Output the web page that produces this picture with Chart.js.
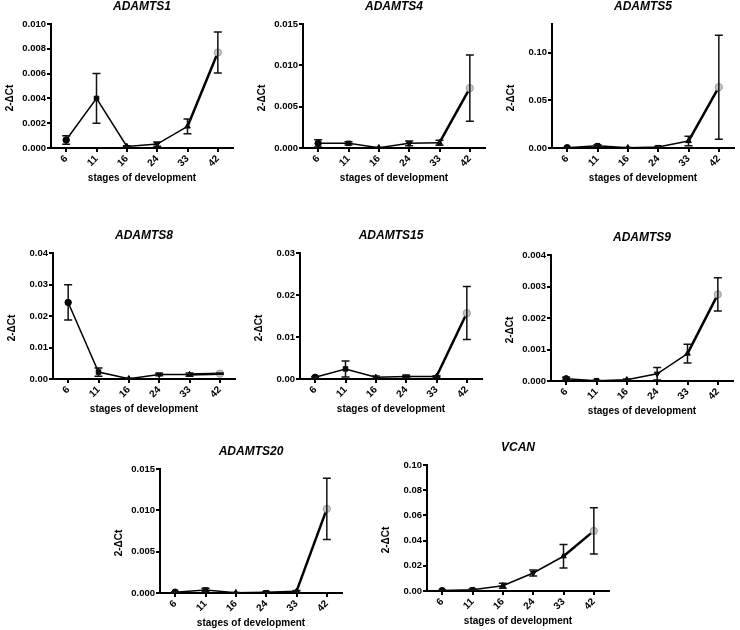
<!DOCTYPE html>
<html>
<head>
<meta charset="utf-8">
<script src="https://cdn.jsdelivr.net/npm/chart.js@4.4.1/dist/chart.umd.min.js"></script>
<style>
  body { margin: 0; background: #fff; width: 740px; height: 630px; position: relative; overflow: hidden; }
  .panel { position: absolute; }
</style>
</head>
<body>
<script>
// stages of development (x categories)
const stages = ['6', '11', '16', '24', '33', '42'];

// mean 2-ΔCt values and error (half-bar) per gene
const adamts1 = [0.00064, 0.0040, 0.00013, 0.00032, 0.00174, 0.0077];
const adamts1Err = [0.00034, 0.0020, 0.00005, 0.00017, 0.0006, 0.00165];

const adamts4 = [0.00056, 0.00056, 0.00004, 0.00056, 0.00064, 0.00724];
const adamts4Err = [0.00045, 0.0002, 0.00002, 0.0003, 0.0003, 0.0040];

const adamts5 = [0.0003, 0.0024, 0.0003, 0.001, 0.0073, 0.0638];
const adamts5Err = [0.0002, 0.001, 0.0002, 0.0005, 0.005, 0.0545];

const adamts8 = [0.0243, 0.0022, 0.0001, 0.0014, 0.0014, 0.0017];
const adamts8Err = [0.0056, 0.0013, 0.0001, 0.0004, 0.0005, 0.0002];

const adamts15 = [0.0004, 0.0024, 0.0004, 0.0006, 0.0006, 0.0157];
const adamts15Err = [0.0002, 0.0019, 0.0003, 0.0003, 0.0002, 0.0063];

const adamts9 = [0.00007, 0.00001, 0.00004, 0.00023, 0.00087, 0.00275];
const adamts9Err = [0.00005, 0.00001, 0.00002, 0.0002, 0.0003, 0.00053];

const adamts20 = [0.0001, 0.00036, 0.00004, 0.0001, 0.0002, 0.01018];
const adamts20Err = [0.00005, 0.0002, 0.00002, 0.00005, 0.0001, 0.0037];

const vcan = [0.0003, 0.001, 0.0042, 0.0143, 0.0276, 0.0477];
const vcanErr = [0.0002, 0.0005, 0.002, 0.0023, 0.0093, 0.0184];

const FONT = "'Liberation Sans', Arial, sans-serif";
const Y_W = 50;     // room left of the y axis
const TOP_H = 30;   // room above plot (title)
const X_H = 40;     // room below plot (ticks + x title)

// panels: name, data, plot box [left, top, right, bottom]
const panels = [
  { name: 'ADAMTS1', data: adamts1, err: adamts1Err, max: 0.010, step: 0.002, dec: 3, box: [51, 24, 238, 148] },
  { name: 'ADAMTS4', data: adamts4, err: adamts4Err, max: 0.015, step: 0.005, dec: 3, box: [303, 24, 490, 148] },
  { name: 'ADAMTS5', data: adamts5, err: adamts5Err, max: 0.13, step: 0.05, dec: 2, box: [552, 24, 739, 148] },
  { name: 'ADAMTS8', data: adamts8, err: adamts8Err, max: 0.04, step: 0.01, dec: 2, box: [53, 253, 240, 379] },
  { name: 'ADAMTS15', data: adamts15, err: adamts15Err, max: 0.03, step: 0.01, dec: 2, box: [300, 253, 487, 379] },
  { name: 'ADAMTS9', data: adamts9, err: adamts9Err, max: 0.004, step: 0.001, dec: 3, box: [551, 255, 738, 381] },
  { name: 'ADAMTS20', data: adamts20, err: adamts20Err, max: 0.015, step: 0.005, dec: 3, box: [160, 469, 347, 593] },
  { name: 'VCAN', data: vcan, err: vcanErr, max: 0.10, step: 0.02, dec: 2, box: [427, 465, 614, 591] }
];

// error bars with caps, drawn through the chart scales
const errorBars = {
  id: 'errorBars',
  afterDatasetsDraw(chart) {
    const ctx = chart.ctx;
    const x = chart.scales.x, y = chart.scales.y;
    const ds = chart.data.datasets[0];
    ctx.save();
    ctx.strokeStyle = '#111';
    ctx.lineWidth = 1.5;
    ds.data.forEach(function(v, i) {
      const e = ds.errors[i];
      if (!e) return;
      const px = x.getPixelForValue(i);
      const pTop = y.getPixelForValue(v + e);
      const pBot = y.getPixelForValue(Math.max(v - e, 0));
      const cap = 4;
      ctx.beginPath();
      ctx.moveTo(px, pTop); ctx.lineTo(px, pBot);
      ctx.moveTo(px - cap, pTop); ctx.lineTo(px + cap, pTop);
      ctx.moveTo(px - cap, pBot); ctx.lineTo(px + cap, pBot);
      ctx.stroke();
    });
    ctx.restore();
  }
};

// y axis title, sitting a little below the plot middle as in the figure
const yTitle = {
  id: 'yTitle',
  afterDraw(chart) {
    const ctx = chart.ctx;
    const a = chart.chartArea;
    ctx.save();
    ctx.translate(a.left - 41, (a.top + a.bottom) / 2 + 12);
    ctx.rotate(-Math.PI / 2);
    ctx.font = 'bold 10px ' + FONT;
    ctx.fillStyle = '#000';
    ctx.textAlign = 'center';
    ctx.textBaseline = 'middle';
    ctx.fillText('2-\u0394Ct', 0, 0);
    ctx.restore();
  }
};

panels.forEach(function(p) {
  const [x0, y0, x1, y1] = p.box;
  const div = document.createElement('div');
  div.className = 'panel';
  div.style.left = (x0 - Y_W) + 'px';
  div.style.top = (y0 - TOP_H) + 'px';
  div.style.width = (x1 - x0 + Y_W) + 'px';
  div.style.height = (y1 - y0 + TOP_H + X_H) + 'px';
  const cvs = document.createElement('canvas');
  div.appendChild(cvs);
  document.body.appendChild(div);

  new Chart(cvs, {
    type: 'line',
    data: {
      labels: stages,
      datasets: [{
        data: p.data,
        errors: p.err,
        borderColor: '#000',
        borderWidth: 1.5,
        segment: {
          borderWidth: ctx => ctx.p1DataIndex === 5 ? 2.5 : 1.5
        },
        tension: 0,
        pointStyle: ['circle', 'rect', 'triangle', 'triangle', 'triangle', 'circle'],
        pointRotation: [0, 0, 0, 180, 0, 0],
        pointRadius: [3.2, 3.2, 3.2, 3.2, 3.2, 3.6],
        pointBackgroundColor: ['#000', '#000', '#000', '#000', '#000', '#c8c8c8'],
        pointBorderColor: ['#000', '#000', '#000', '#000', '#000', '#9a9a9a'],
        pointBorderWidth: 1
      }]
    },
    options: {
      responsive: true,
      maintainAspectRatio: false,
      animation: false,
      layout: { padding: 0 },
      plugins: {
        legend: { display: false },
        tooltip: { enabled: false },
        title: {
          display: true,
          text: p.name,
          fullSize: false,
          color: '#000',
          font: { family: FONT, size: 12, weight: 'bold', style: 'italic', lineHeight: 1.2 },
          padding: { top: 5.8, bottom: 9.8 }
        }
      },
      scales: {
        x: {
          type: 'category',
          offset: true,
          border: { display: true, color: '#000', width: 2 },
          grid: { display: true, drawOnChartArea: false, offset: false, color: '#000', lineWidth: 2, tickLength: 4 },
          ticks: {
            color: '#000', autoSkip: false, minRotation: 45, maxRotation: 45, padding: 1,
            font: { family: FONT, size: 10, weight: 'bold' }
          },
          title: {
            display: true, text: 'stages of development', color: '#000',
            font: { family: FONT, size: 10, weight: 'bold', lineHeight: 1.2 },
            padding: { top: 0, bottom: 4 }
          },
          afterFit: function(s) { s.height = X_H; s.paddingLeft = 0; s.paddingRight = 0; }
        },
        y: {
          min: 0,
          max: p.max,
          border: { display: true, color: '#000', width: 2 },
          grid: { display: true, drawOnChartArea: false, color: '#000', lineWidth: 2, tickLength: 4 },
          ticks: {
            stepSize: p.step, color: '#000', padding: 1,
            font: { family: FONT, size: 9.5, weight: 'bold' },
            callback: v => Number(v).toFixed(p.dec)
          },
          afterBuildTicks: function(s) {
            s.ticks = s.ticks.filter(t => Math.abs(t.value / p.step - Math.round(t.value / p.step)) < 1e-6);
          },
          afterFit: function(s) { s.width = Y_W; s.paddingTop = 0; s.paddingBottom = 0; }
        }
      }
    },
    plugins: [errorBars, yTitle]
  });
});
</script>
</body>
</html>
